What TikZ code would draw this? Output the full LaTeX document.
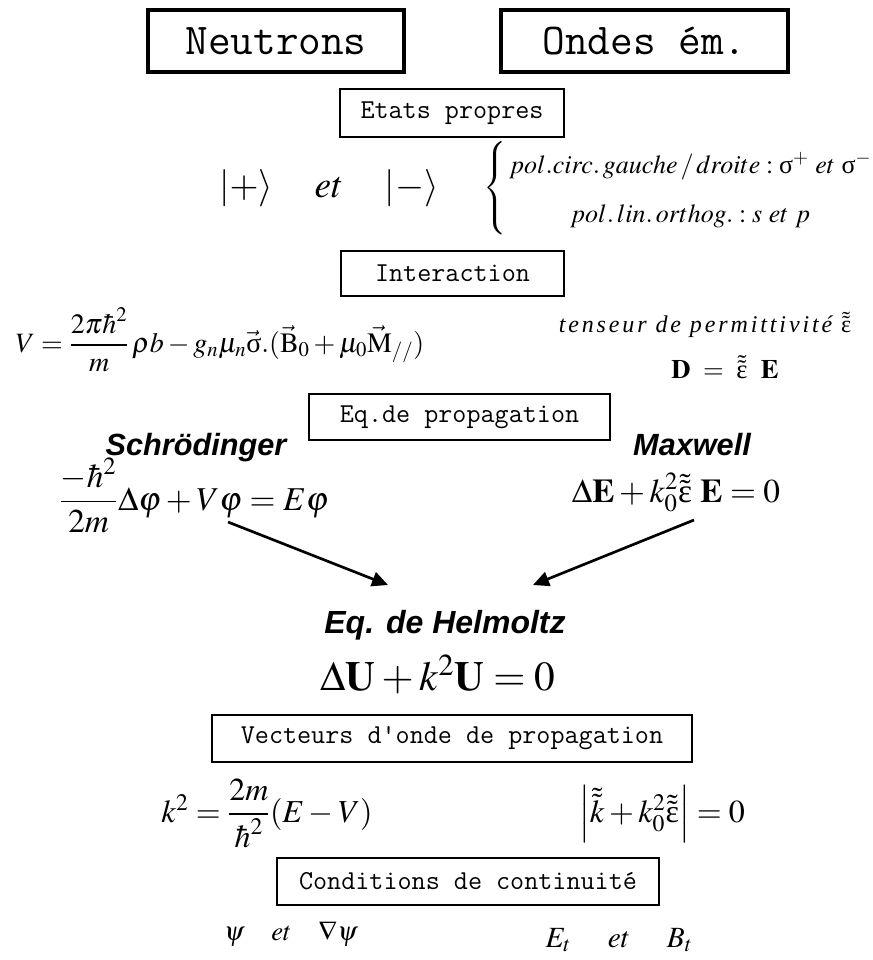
\documentclass[tikz,border=0pt]{standalone}
\usepackage{amsmath}
\usepackage{mathptmx}
\usepackage{fontspec}
\setmainfont{Liberation Serif}
\setsansfont{Liberation Sans}
\usetikzlibrary{arrows.meta}
\newcommand{\tens}[1]{\tilde{\tilde{#1}}}
\newcommand{\upeps}{\mbox{ε}}
\newcommand{\upsig}{\mbox{σ}}
\begin{document}
\begin{tikzpicture}[
                x=0.75pt, y=-0.75pt,
                mainbox/.style={draw=black, line width=3pt, inner sep=0pt,
                    font=\ttfamily\fontsize{33}{36}\selectfont},
                stagebox/.style={draw=black, line width=1.5pt, inner sep=0pt,
                    font=\ttfamily\fontsize{20.5}{24}\selectfont},
                method/.style={font=\sffamily\bfseries\itshape\fontsize{23}{26}\selectfont, anchor=base},
                formula/.style={inner sep=0pt, anchor=base},
                flow/.style={draw=black, line width=2pt,
                    -{Triangle[length=12pt, width=11pt]}}]
        % Page frame in reference pixels.
        \useasboundingbox (0,0) rectangle (872,960);

        % The two families of waves.
        \node[mainbox, minimum width=192pt, minimum height=46.5pt] (neutrons) at (276,41) {Neutrons};
        \node[mainbox, minimum width=215pt, minimum height=46.5pt] (ondes) at (644.5,41) {Ondes ém.};

        % Eigenstates.
        \node[stagebox, minimum width=168pt, minimum height=36pt] (etats) at (452,113) {Etats propres};
        \node[inner sep=0pt, font=\fontsize{28}{32}\selectfont] (kets) at (329,188)
                {$\left|+\right\rangle\quad et\quad\left|-\right\rangle$};
        \node[inner sep=0pt, font=\fontsize{19.5}{24}\selectfont] (polar) at (678,188)
                {$\left\{\renewcommand{\arraystretch}{1.55}\begin{array}{@{\,}c@{}}
                pol.circ.\,gauche\,/\,droite:\upsig^{+}\ et\ \upsig^{-}\\
                pol.\,lin.\,orthog.:s\ et\ p\end{array}\right.$};

        % Interaction.
        \node[stagebox, minimum width=167pt, minimum height=34pt] (interaction) at (452.5,273.5) {Interaction};
        \node[formula, font=\fontsize{21}{24}\selectfont] (potential) at (220,352)
                {$V=\dfrac{2\pi\hbar^{2}}{m}\,\rho b-g_{n}\mu_{n}\vec{\upsig}.(\vec{\mathrm{B}}_{0}+\mu_{0}\vec{\mathrm{M}}_{//})$};
        \node[anchor=base, inner sep=0pt, font=\itshape\fontsize{18}{22}\selectfont] (tenseur) at (705,332)
                {\addfontfeature{LetterSpace=12}tenseur de permittivité\ \upshape$\tens{\upeps}$};
        \node[anchor=base, inner sep=0pt, font=\fontsize{20}{24}\selectfont] (displ) at (725,378)
                {$\mathbf{D}\ =\ \tens{\upeps}\ \ \mathbf{E}$};

        % Propagation equations.
        \node[stagebox, minimum width=226pt, minimum height=34.5pt] (propag) at (459.5,417) {Eq.de propagation};
        \node[method] (schrodinger) at (196,455) {Schrödinger};
        \node[method] (maxwell) at (692,455) {Maxwell};
        \node[formula, font=\fontsize{25}{30}\selectfont] (schreq) at (194,510)
                {$\dfrac{-\hbar^{2}}{2m}\Delta\varphi+V\varphi=E\varphi$};
        \node[formula, font=\fontsize{25}{30}\selectfont] (maxeq) at (676,502)
                {$\Delta\mathbf{E}+k_{0}^{2}\tens{\upeps}\ \mathbf{E}=0$};

        % Both lead to the Helmholtz equation.
        \coordinate (schrfrom) at (228,522);
        \coordinate (schrto) at (388,585);
        \coordinate (maxfrom) at (694,520);
        \coordinate (maxto) at (533,585);
        \draw[flow] (schrfrom) -- (schrto);
        \draw[flow] (maxfrom) -- (maxto);
        \node[method, font=\sffamily\bfseries\itshape\fontsize{24}{28}\selectfont] (helmoltz) at (445,633) {Eq. de Helmoltz};
        \node[formula, font=\fontsize{31}{36}\selectfont] (helmeq) at (438,690)
                {$\Delta\mathbf{U}+k^{2}\mathbf{U}=0$};

        % Wave vectors.
        \node[stagebox, minimum width=360pt, minimum height=35pt] (vecteurs) at (452,738.5) {Vecteurs d'onde de propagation};
        \node[formula, font=\fontsize{24}{28}\selectfont] (kneutron) at (267,822)
                {$k^{2}=\dfrac{2m}{\hbar^{2}}(E-V)$};
        \node[formula, font=\fontsize{24}{28}\selectfont] (kwave) at (662,822)
                {$\left|\tens{k}+k_{0}^{2}\tens{\upeps}\right|=0$};

        % Continuity conditions.
        \node[stagebox, minimum width=286.5pt, minimum height=35pt] (continuite) at (468,881.5) {Conditions de continuité};
        \node[formula, font=\fontsize{20}{24}\selectfont] (contneutron) at (291,940)
                {$\psi\quad et\quad\nabla\psi$};
        \node[formula, font=\fontsize{22}{26}\selectfont] (contwave) at (619,947)
                {$E_{t}\quad\ et\quad\ B_{t}$};
\end{tikzpicture}
\end{document}
